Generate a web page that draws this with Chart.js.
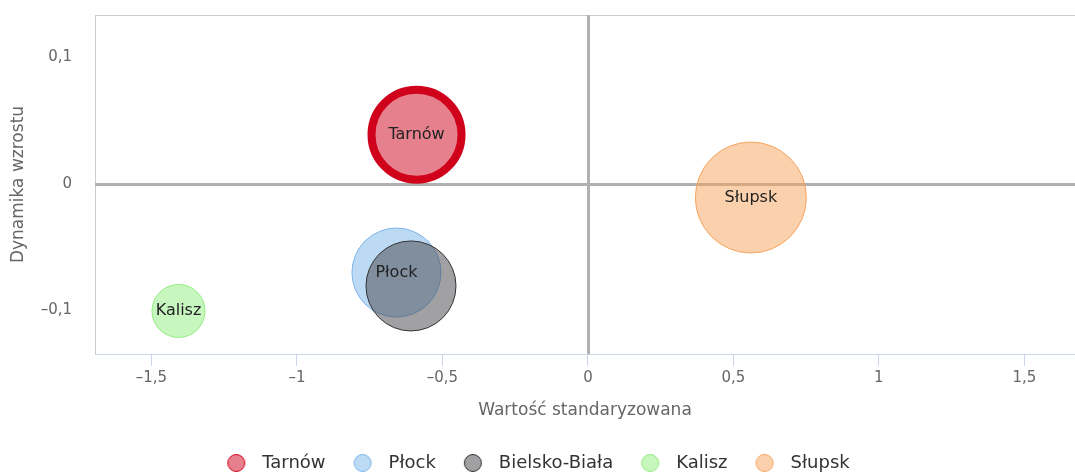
<!DOCTYPE html>
<html><head><meta charset="utf-8">
<script src="https://cdn.jsdelivr.net/npm/chart.js@4/dist/chart.umd.min.js"></script>
<style>html,body{margin:0;padding:0;background:#fff}</style>
</head><body>
<canvas id="c" width="1075" height="472"></canvas>
<script>
// ---- data ----
const cities = ['Tarnów', 'Płock', 'Bielsko-Biała', 'Kalisz', 'Słupsk'];
const xValues = [-0.589, -0.658, -0.608, -1.407, 0.560];
const yValues = [0.039, -0.070, -0.0806, -0.1004, -0.0107];
const bubbleSizes = [45, 44.5, 45, 26.5, 55.5];
const xTicks = [-1.5, -1, -0.5, 0, 0.5, 1, 1.5];
const yTicks = [-0.1, 0, 0.1];
const xTitle = 'Wartość standaryzowana';
const yTitle = 'Dynamika wzrostu';

// ---- styles ----
const colors = ['#d0021b', '#7cb5ec', '#434348', '#90ed7d', '#f7a35c'];
const borderColors = ['#d0021b', '#7cb5ec', '#333333', '#90ed7d', '#f7a35c'];
const borderWidths = [8, 1, 1, 1, 1];
const FONT = "'DejaVu Sans', sans-serif";

function rgba(hex, a) {
  const n = parseInt(hex.slice(1), 16);
  return `rgba(${n >> 16},${(n >> 8) & 255},${n & 255},${a})`;
}
function fmt(v) {
  return String(v).replace('.', ',').replace('-', '\u2013');
}

function legendIcon(color, border) {
  const cv = document.createElement('canvas');
  cv.width = 28; cv.height = 22;
  const c = cv.getContext('2d');
  c.beginPath();
  c.arc(11, 11, 8.5, 0, Math.PI * 2);
  c.fillStyle = rgba(color, 0.5);
  c.fill();
  c.lineWidth = 1;
  c.strokeStyle = border;
  c.stroke();
  return cv;
}
const icons = colors.map((c, i) => legendIcon(c, borderColors[i]));

const datasets = cities.map((name, i) => ({
  label: name,
  data: [{ x: xValues[i], y: yValues[i], r: bubbleSizes[i] }],
  backgroundColor: rgba(colors[i], 0.5),
  borderColor: borderColors[i],
  borderWidth: borderWidths[i],
  order: cities.length - i
}));

const framePlugin = {
  id: 'frame',
  beforeDatasetsDraw(chart) {
    const { ctx, chartArea: a, scales } = chart;
    ctx.save();
    ctx.strokeStyle = '#cccccc';
    ctx.lineWidth = 1;
    ctx.beginPath();
    ctx.moveTo(a.left, a.top + 0.5);
    ctx.lineTo(a.right, a.top + 0.5);
    ctx.stroke();
    ctx.strokeStyle = '#b0b0b0';
    ctx.lineWidth = 3;
    const x0 = Math.round(scales.x.getPixelForValue(0)) + 0.5;
    const y0 = Math.round(scales.y.getPixelForValue(0)) + 0.5;
    ctx.beginPath();
    ctx.moveTo(x0, a.top);
    ctx.lineTo(x0, a.bottom);
    ctx.moveTo(a.left, y0);
    ctx.lineTo(a.right, y0);
    ctx.stroke();
    ctx.restore();
  }
};

const labelPlugin = {
  id: 'bubbleLabels',
  afterDatasetsDraw(chart) {
    const { ctx } = chart;
    ctx.save();
    ctx.font = '16px ' + FONT;
    ctx.fillStyle = '#222222';
    ctx.textAlign = 'center';
    ctx.textBaseline = 'middle';
    const placed = [];
    chart.data.datasets.forEach((ds, i) => {
      const el = chart.getDatasetMeta(i).data[0];
      const w = ctx.measureText(ds.label).width + 4;
      const h = 18;
      const box = { l: el.x - w / 2, r: el.x + w / 2, t: el.y - h / 2, b: el.y + h / 2 };
      const hit = placed.some(p => !(box.r < p.l || box.l > p.r || box.b < p.t || box.t > p.b));
      if (hit) return;
      placed.push(box);
      ctx.fillText(ds.label, el.x, el.y);
    });
    ctx.restore();
  }
};

new Chart(document.getElementById('c'), {
  type: 'bubble',
  data: { datasets },
  plugins: [framePlugin, labelPlugin],
  options: {
    responsive: false,
    animation: false,
    events: [],
    layout: { autoPadding: false, padding: { top: 15, left: 0, right: 0, bottom: 0 } },
    plugins: {
      tooltip: { enabled: false },
      legend: {
        position: 'bottom',
        maxHeight: 44,
        labels: {
          usePointStyle: true,
          pointStyleWidth: 28,
          padding: 26,
          color: '#333333',
          font: { family: FONT, size: 18 },
          sort: (a, b) => a.datasetIndex - b.datasetIndex,
          generateLabels(chart) {
            return Chart.defaults.plugins.legend.labels.generateLabels(chart).map(it => {
              it.pointStyle = icons[it.datasetIndex];
              return it;
            });
          }
        }
      }
    },
    scales: {
      x: {
        type: 'linear',
        min: -1.694,
        max: 1.674,
        afterBuildTicks(scale) { scale.ticks = xTicks.map(v => ({ value: v })); },
        afterFit(scale) { scale.height = 74; scale.paddingLeft = 0; scale.paddingRight = 0; },
        grid: { display: true, drawOnChartArea: false, drawTicks: true, tickLength: 12, color: '#ccd6eb', tickColor: '#ccd6eb' },
        border: { display: true, color: '#ccd6eb', width: 1 },
        ticks: { padding: 3, color: '#666666', font: { family: FONT, size: 15 }, maxRotation: 0, autoSkip: false, callback: v => fmt(v) },
        title: { display: true, text: xTitle, color: '#666666', font: { family: FONT, size: 17 }, padding: { top: 0, bottom: 7 } }
      },
      y: {
        type: 'linear',
        min: -0.1344,
        max: 0.1336,
        afterBuildTicks(scale) { scale.ticks = yTicks.map(v => ({ value: v })); },
        afterFit(scale) { scale.width = 95; scale.paddingTop = 0; scale.paddingBottom = 0; },
        grid: { display: false, drawTicks: false },
        border: { display: true, color: '#cccccc', width: 1 },
        ticks: { padding: 23, color: '#666666', font: { family: FONT, size: 15 }, autoSkip: false, callback: v => fmt(v) },
        title: { display: true, text: yTitle, color: '#666666', font: { family: FONT, size: 17 }, padding: { top: 8, bottom: 0 } }
      }
    }
  }
});
</script>
</body></html>
